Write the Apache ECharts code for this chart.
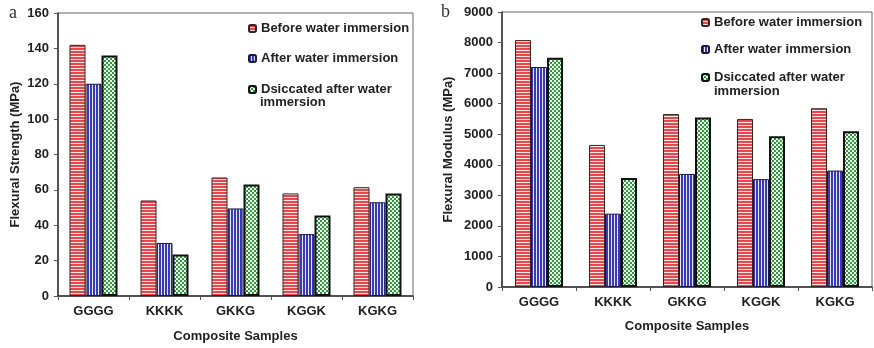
<!DOCTYPE html>
<html>
<head>
<meta charset="utf-8">
<script src="https://cdn.jsdelivr.net/npm/echarts@6/dist/echarts.min.js"></script>
<style>
html,body{margin:0;padding:0;background:#fff;}
#chart{width:874px;height:348px;}
</style>
</head>
<body>
<div id="chart"></div>
<script>
// ---- data ----
var categories = ['GGGG', 'KKKK', 'GKKG', 'KGGK', 'KGKG'];
var seriesNames = ['Before water immersion', 'After water immersion', 'Dsiccated after water immersion'];
var strengthBefore = [142, 54, 67, 58, 61.5];
var strengthAfter = [120, 30, 49.5, 35, 53];
var strengthDesiccated = [136, 23.5, 63, 45.5, 58];
var modulusBefore = [8080, 4650, 5660, 5500, 5850];
var modulusAfter = [7200, 2400, 3700, 3530, 3810];
var modulusDesiccated = [7500, 3570, 5550, 4930, 5100];
var strengthTicks = {min: 0, max: 160, interval: 20};
var modulusTicks = {min: 0, max: 9000, interval: 1000};

// ---- patterns ----
function makeCanvas(w, h, draw) {
  var c = document.createElement('canvas');
  c.width = w; c.height = h;
  draw(c.getContext('2d'));
  return c;
}
var redPat = makeCanvas(4, 3, function (g) {
  g.fillStyle = '#e8474b'; g.fillRect(0, 0, 4, 3);
  g.fillStyle = '#fbe4e4'; g.fillRect(0, 2, 4, 1);
});
var bluePat = makeCanvas(3, 4, function (g) {
  g.fillStyle = '#3a3ab4'; g.fillRect(0, 0, 3, 4);
  g.fillStyle = '#e6e6fa'; g.fillRect(2, 0, 1, 4);
});
var greenPat = makeCanvas(4, 4, function (g) {
  g.fillStyle = '#f2fbf2'; g.fillRect(0, 0, 4, 4);
  g.fillStyle = '#2e9a3c';
  g.fillRect(0, 0, 2, 2); g.fillRect(2, 2, 2, 2);
});
var styles = [
  {color: {image: redPat, repeat: 'repeat'}, borderColor: '#3a2222', borderWidth: 1},
  {color: {image: bluePat, repeat: 'repeat'}, borderColor: '#1a1a40', borderWidth: 1},
  {color: {image: greenPat, repeat: 'repeat'}, borderColor: '#111', borderWidth: 2}
];

var FONT = '"Liberation Sans", Arial, sans-serif';
var TXT = '#222';

function yAxis(gi, ticks, name, gap) {
  return {
    type: 'value', gridIndex: gi, min: ticks.min, max: ticks.max, interval: ticks.interval,
    name: name, nameLocation: 'middle', nameGap: gap,
    nameTextStyle: {fontFamily: FONT, fontWeight: 'bold', fontSize: 13, color: TXT},
    axisLine: {show: true, lineStyle: {color: '#333', width: 1.5}},
    axisTick: {show: true, length: 4, inside: false, lineStyle: {color: '#555'}},
    axisLabel: {fontFamily: FONT, fontWeight: 'bold', fontSize: 13, color: TXT, margin: 9,
      formatter: function (v) { return String(v); }},
    splitLine: {show: false}
  };
}
function xAxis(gi, gap) {
  return {
    type: 'category', gridIndex: gi, data: categories,
    name: 'Composite Samples', nameLocation: 'middle', nameGap: gap,
    nameTextStyle: {fontFamily: FONT, fontWeight: 'bold', fontSize: 13, color: TXT},
    axisLine: {show: true, lineStyle: {color: '#333', width: 1.5}},
    axisTick: {show: true, length: 4, alignWithLabel: false, lineStyle: {color: '#555'}},
    axisLabel: {fontFamily: FONT, fontWeight: 'bold', fontSize: 13, color: TXT, margin: 9},
    splitLine: {show: false}
  };
}
function bars(gi, arrs) {
  return arrs.map(function (d, i) {
    return {
      type: 'bar', name: seriesNames[i], xAxisIndex: gi, yAxisIndex: gi,
      data: d, barWidth: 16, barGap: '0%', itemStyle: styles[i]
    };
  });
}
function legend(name, left, top, label) {
  var l = {
    data: [name], left: left, top: top, orient: 'vertical',
    itemWidth: 7, itemHeight: 7, itemGap: 0, padding: 0,
    selectedMode: false,
    textStyle: {fontFamily: FONT, fontWeight: 'bold', fontSize: 13, color: TXT, lineHeight: 15}
  };
  if (label) {
    l.formatter = function () { return label; };
  }
  return l;
}
function contText(text, left, top) {
  return {type: 'text', left: left, top: top,
    style: {text: text, font: 'bold 13px ' + FONT, fill: TXT}};
}

var option = {
  animation: false,
  backgroundColor: '#fff',
  grid: [
    {left: 58, top: 13, width: 355, height: 284, show: true, borderColor: '#666', borderWidth: 1},
    {left: 502, top: 12, width: 370, height: 275, show: true, borderColor: '#666', borderWidth: 1}
  ],
  xAxis: [xAxis(0, 34), xAxis(1, 33)],
  yAxis: [yAxis(0, strengthTicks, 'Flexural Strength (MPa)', 36), yAxis(1, modulusTicks, 'Flexural Modulus (MPa)', 47)],
  legend: [
    legend(seriesNames[0], 248, 21, null),
    legend(seriesNames[1], 248, 51, null),
    legend(seriesNames[2], 248, 82, 'Dsiccated after water'),
    legend(seriesNames[0], 701, 15, null),
    legend(seriesNames[1], 701, 42, null),
    legend(seriesNames[2], 701, 70, 'Dsiccated after water')
  ],
  graphic: [
    {type: 'text', left: 9, top: 4, style: {text: 'a', font: '18px "Liberation Serif", "DejaVu Serif", serif', fill: '#333'}},
    {type: 'text', left: 441, top: 3, style: {text: 'b', font: '18px "Liberation Serif", "DejaVu Serif", serif', fill: '#333'}},
    contText('immersion', 260, 96),
    contText('immersion', 714, 85)
  ],
  series: bars(0, [strengthBefore, strengthAfter, strengthDesiccated])
    .concat(bars(1, [modulusBefore, modulusAfter, modulusDesiccated]))
};
var chart = echarts.init(document.getElementById('chart'), null, {renderer: 'canvas'});
chart.setOption(option);
</script>
</body>
</html>
